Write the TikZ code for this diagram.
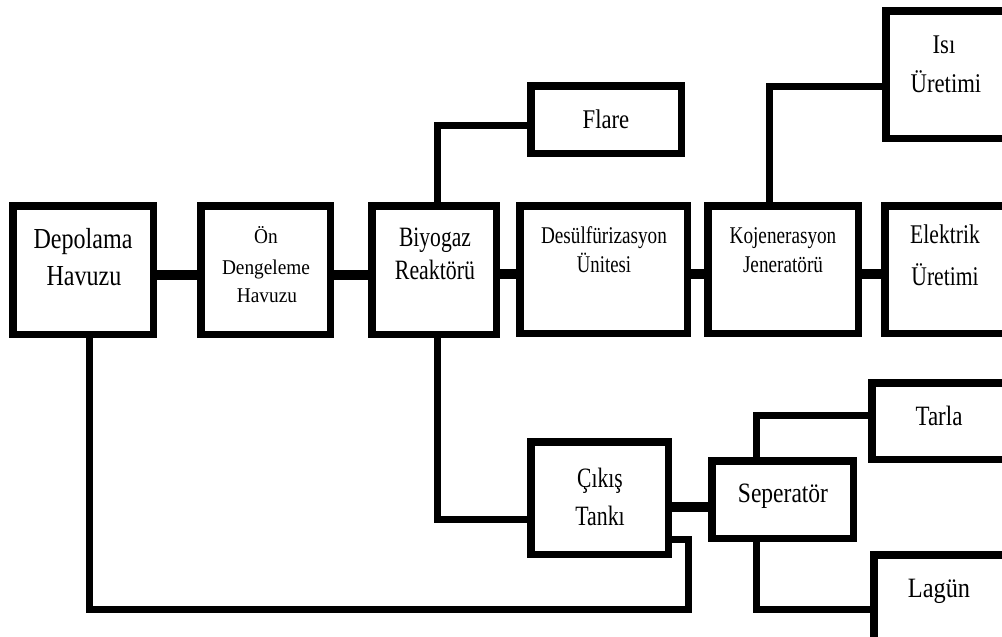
\documentclass[tikz,border=0pt]{standalone}
\usepackage{fontspec}
\setmainfont{Liberation Serif}
\usepackage{graphicx}
\tikzset{
  box/.style={draw=black, line width=7.5pt, fill=white, inner sep=0pt},
  conn/.style={draw=black, line width=7pt, line join=miter},
  thick conn/.style={draw=black, line width=9.5pt},
  lbl/.style={anchor=base, inner sep=0pt},
}
\newcommand\sx[2]{\scalebox{#1}[1]{#2}}
\newcommand\fs[1]{\fontsize{#1}{#1}\selectfont}
\newcommand\bx[5]{\node[box, minimum width={#4-#2-7.5}, minimum height={#5-#3-7.5}] (#1) at ({(#2+#4)/2},{(#3+#5)/2}) {};}
\begin{document}
\begin{tikzpicture}[x=1pt,y=-1pt]
\useasboundingbox (0,0) rectangle (1002,637);
\coordinate (dx) at (89,0);
\coordinate (bx) at (437,0);
\coordinate (kx) at (769,0);
\coordinate (sx) at (756,0);
% boxes
\bx{dep}{9}{202}{157}{338}
\bx{on}{197}{202}{334}{338}
\bx{bio}{368}{202}{500}{338}
\bx{des}{516}{202}{691}{337}
\bx{koj}{704}{202}{862}{337}
\bx{ele}{881}{202}{1012}{337}
\bx{isi}{882}{7}{1012}{142}
\bx{fla}{527}{82}{685}{157}
\bx{cik}{527}{438}{672}{558}
\bx{sep}{708}{457}{857}{542}
\bx{tar}{868}{379}{1012}{463}
\bx{lag}{870}{551}{1012}{644}
% main row
\draw[thick conn] (dep.east |- 0,275) -- (on.west |- 0,275);
\draw[thick conn] (on.east |- 0,275) -- (bio.west |- 0,275);
\draw[thick conn] (bio.east |- 0,274) -- (des.west |- 0,274);
\draw[thick conn] (des.east |- 0,274) -- (koj.west |- 0,274);
\draw[thick conn] (koj.east |- 0,274) -- (ele.west |- 0,274);
% branches
\draw[conn] (bx |- bio.north) |- (fla.west |- 0,125);
\draw[conn] (bx |- bio.south) |- (cik.west |- 0,519);
\draw[conn] (kx |- koj.north) |- (isi.west |- 0,86);
\draw[thick conn] (cik.east |- 0,507) -- (sep.west |- 0,507);
\draw[conn] (sx |- sep.north) |- (tar.west |- 0,415);
\draw[conn] (sx |- sep.south) |- (lag.west |- 0,609);
\draw[conn] (cik.east |- 0,539) -| (688,609) -| (dx |- dep.south);
% texts
\node[lbl, font=\fs{29}] (t1a) at (83,248) {\sx{.83}{Depolama}};
\node[lbl, font=\fs{29}] (t1b) at (84,285) {\sx{.83}{Havuzu}};
\node[lbl, font=\fs{21}] (t2a) at (266,243) {\sx{.92}{Ön}};
\node[lbl, font=\fs{21}] (t2b) at (266,274) {\sx{.92}{Dengeleme}};
\node[lbl, font=\fs{21}] (t2c) at (267,302) {\sx{.92}{Havuzu}};
\node[lbl, font=\fs{28}] (t3a) at (435,246) {\sx{.77}{Biyogaz}};
\node[lbl, font=\fs{28}] (t3b) at (435,279) {\sx{.78}{Reaktörü}};
\node[lbl, font=\fs{24}] (t4a) at (604,243) {\sx{.8}{Desülfürizasyon}};
\node[lbl, font=\fs{24}] (t4b) at (604,272) {\sx{.78}{Ünitesi}};
\node[lbl, font=\fs{24}] (t5a) at (783,243) {\sx{.8}{Kojenerasyon}};
\node[lbl, font=\fs{24}] (t5b) at (783,272) {\sx{.8}{Jeneratörü}};
\node[lbl, font=\fs{27}] (t6a) at (945,243) {\sx{.8}{Elektrik}};
\node[lbl, font=\fs{27}] (t6b) at (945,285) {\sx{.8}{Üretimi}};
\node[lbl, font=\fs{27}] (t7a) at (944,53) {\sx{.84}{Isı}};
\node[lbl, font=\fs{27}] (t7b) at (946,92) {\sx{.84}{Üretimi}};
\node[lbl, font=\fs{27}] (t8) at (606,128) {\sx{.84}{Flare}};
\node[lbl, font=\fs{28}] (t9a) at (600,487) {\sx{.77}{Çıkış}};
\node[lbl, font=\fs{28}] (t9b) at (600,525) {\sx{.78}{Tankı}};
\node[lbl, font=\fs{28}] (t10) at (783,502) {\sx{.84}{Seperatör}};
\node[lbl, font=\fs{28}] (t11) at (939,425) {\sx{.82}{Tarla}};
\node[lbl, font=\fs{28}] (t12) at (939,597) {\sx{.87}{Lagün}};
\end{tikzpicture}
\end{document}
